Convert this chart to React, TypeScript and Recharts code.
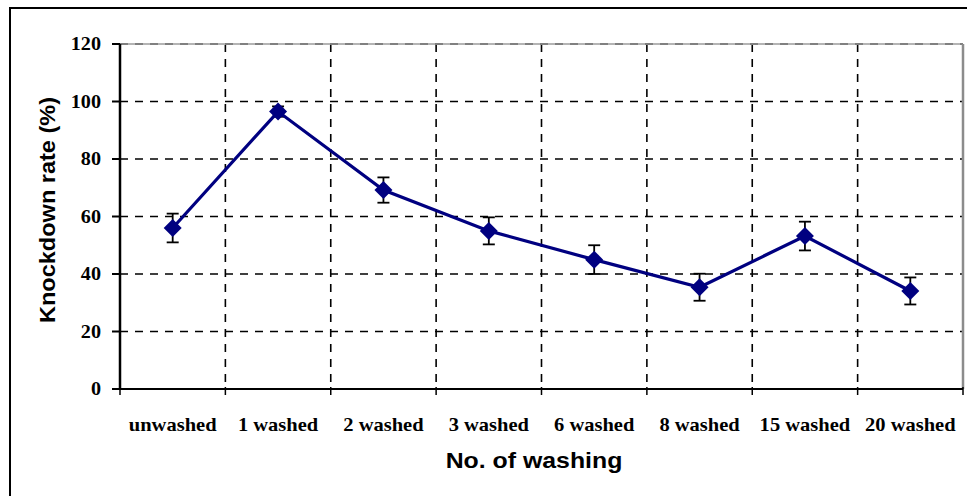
import {
  CartesianGrid,
  ErrorBar,
  Line,
  LineChart,
  ReferenceLine,
  XAxis,
  YAxis,
} from "recharts";

const categories = [
  "unwashed",
  "1 washed",
  "2 washed",
  "3 washed",
  "6 washed",
  "8 washed",
  "15 washed",
  "20 washed",
];
const knockdown = [56, 96.5, 69.2, 55, 45, 35.4, 53.2, 34.1];
const errors = [5, 1.8, 4.4, 4.7, 5, 4.7, 5, 4.7];
const yTicks = [0, 20, 40, 60, 80, 100, 120];

// category slots on a numeric axis: boundaries at integers, labels at the middles
const boundaryTicks = categories.map((_, i) => i).concat(categories.length);
const xTicks = categories.flatMap((_, i) => [i, i + 0.5]).concat(categories.length);

const data = categories.map((name, i) => ({
  name,
  slot: i + 0.5,
  value: knockdown[i],
  err: errors[i],
}));

const NAVY = "#000080";
const TICK_FONT = "'Liberation Serif', 'Times New Roman', serif";
const TITLE_FONT = "'Liberation Sans', Arial, sans-serif";

interface DotProps {
  cx?: number;
  cy?: number;
  index?: number;
}

function Diamond({ cx, cy, index }: DotProps) {
  if (cx == null || cy == null) return null;
  const r = 9;
  return (
    <polygon
      key={`d-${index}`}
      points={`${cx},${cy - r} ${cx + r},${cy} ${cx},${cy + r} ${cx - r},${cy}`}
      fill={NAVY}
    />
  );
}

interface TickProps {
  x?: number;
  y?: number;
  payload?: { value: number };
}

function CategoryTick({ x = 0, y = 0, payload }: TickProps) {
  const v = payload?.value ?? 0;
  if (Number.isInteger(v)) {
    return <line x1={x} x2={x} y1={y - 2} y2={y + 6} stroke="#000" strokeWidth={1.5} />;
  }
  return (
    <g transform={`translate(${x},${y + 42})`}>
      <text
        textAnchor="middle"
        transform="scale(1.14,1)"
        fontFamily={TICK_FONT}
        fontWeight="bold"
        fontSize={18}
        fill="#000"
      >
        {categories[Math.floor(v)]}
      </text>
    </g>
  );
}

function ValueTick({ x = 0, y = 0, payload }: TickProps) {
  return (
    <g transform={`translate(${x},${y + 6})`}>
      <text
        textAnchor="end"
        transform="scale(1.12,1)"
        fontFamily={TICK_FONT}
        fontWeight="bold"
        fontSize={18}
        fill="#000"
      >
        {payload?.value}
      </text>
    </g>
  );
}

export default function App() {
  return (
    <div
      style={{
        position: "absolute",
        left: 0,
        top: 0,
        width: 967,
        height: 496,
        overflow: "hidden",
        background: "#fff",
      }}
    >
      <div
        style={{
          position: "absolute",
          left: 9,
          top: 7,
          width: 1000,
          height: 520,
          borderLeft: "2px solid #000",
          borderTop: "2px solid #000",
        }}
      />
      <div style={{ position: "absolute", left: 0, top: 0 }}>
        <LineChart
          width={967}
          height={496}
          data={data}
          margin={{ top: 44, right: 4, bottom: 106, left: 119 }}
        >
          <CartesianGrid
            verticalValues={boundaryTicks}
            horizontalValues={yTicks}
            stroke="#000"
            strokeWidth={1.6}
            strokeDasharray="8 7"
          />
          <XAxis
            dataKey="slot"
            type="number"
            domain={[0, categories.length]}
            allowDataOverflow
            ticks={xTicks}
            interval={0}
            height={1}
            tickSize={0}
            tickMargin={0}
            tickLine={false}
            axisLine={{ stroke: "#000", strokeWidth: 1.8 }}
            tick={<CategoryTick />}
          />
          <YAxis
            domain={[0, 120]}
            ticks={yTicks}
            width={1}
            tickSize={8}
            tickMargin={11}
            axisLine={{ stroke: "#000", strokeWidth: 2.5 }}
            tickLine={{ stroke: "#000", strokeWidth: 2 }}
            tick={<ValueTick />}
            label={{
              content: () => (
                <text
                  transform="translate(55,210) rotate(-90) scale(1.07,1)"
                  textAnchor="middle"
                  fontFamily={TITLE_FONT}
                  fontWeight="bold"
                  fontSize={22}
                  fill="#000"
                >
                  Knockdown rate (%)
                </text>
              ),
            }}
          />
          <ReferenceLine y={120} stroke="#b4b4b4" strokeWidth={2} />
          <ReferenceLine
            y={120}
            stroke="#808080"
            strokeWidth={2}
            strokeDasharray="8 7"
          />
          <ReferenceLine x={categories.length} stroke="#8c8c8c" strokeWidth={2.5} />
          <Line
            type="linear"
            dataKey="value"
            stroke={NAVY}
            strokeWidth={3.2}
            dot={<Diamond />}
            activeDot={false}
            isAnimationActive={false}
          >
            <ErrorBar
              dataKey="err"
              direction="y"
              width={6}
              stroke="#000"
              strokeWidth={1.8}
              isAnimationActive={false}
            />
          </Line>
          <text
            transform="translate(534,468) scale(1.13,1)"
            textAnchor="middle"
            fontFamily={TITLE_FONT}
            fontWeight="bold"
            fontSize={22}
            fill="#000"
          >
            No. of washing
          </text>
        </LineChart>
      </div>
    </div>
  );
}
